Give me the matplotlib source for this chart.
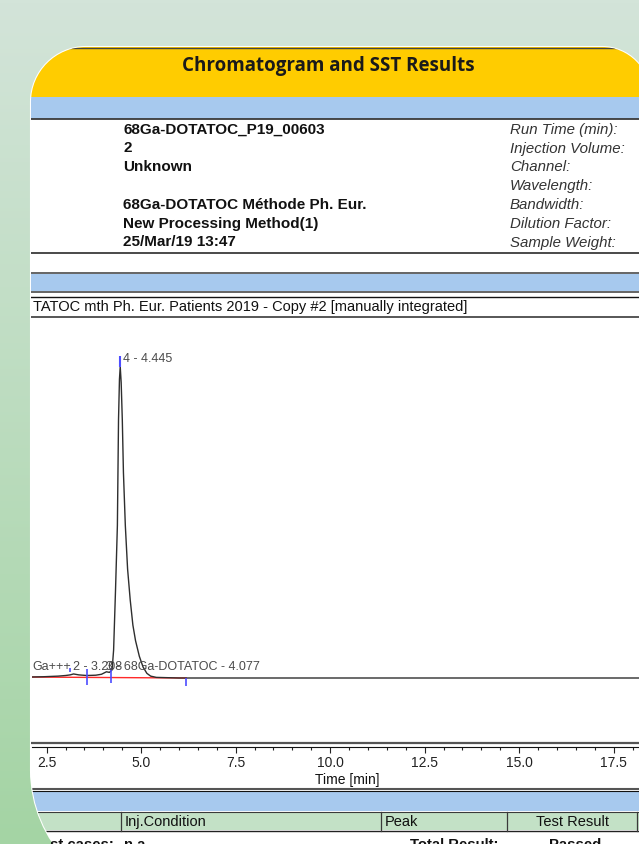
import numpy as np
import matplotlib
matplotlib.use("Agg")
import matplotlib.pyplot as plt
from matplotlib.path import Path
from matplotlib.patches import PathPatch, Rectangle
from matplotlib.colors import to_rgb

# ---------------- data ----------------
time_min = [2.00, 2.40, 2.80, 3.00, 3.12, 3.21, 3.35, 3.56, 3.80, 3.95, 4.08, 4.16,
            4.23, 4.27, 4.32, 4.37, 4.40, 4.425, 4.445, 4.47, 4.50, 4.53, 4.58, 4.64,
            4.71, 4.78, 4.85, 4.95, 5.05, 5.15, 5.25, 5.40, 6.00, 10.0, 15.0, 20.0]
signal = [0.3, 0.4, 0.6, 0.8, 1.0, 1.3, 1.0, 0.8, 0.9, 1.2, 2.0, 1.8,
          2.6, 9.0, 28.0, 49.0, 83.0, 96.0, 100.0, 95.0, 83.0, 66.0, 49.0, 35.0,
          25.0, 17.0, 12.0, 7.0, 3.5, 1.5, 0.6, 0.2, 0.0, 0.0, 0.0, 0.0]

baseline_t = [2.11, 6.19]
baseline_v = [0.3, 0.0]

delim_t = [3.12, 3.56, 4.20, 6.19]
delim_lo = [2.0, -2.2, -1.6, -2.6]
delim_hi = [3.2, 2.9, 3.2, 0.0]

apex_t = 4.445
apex_lo, apex_hi = 100.0, 103.5

peak_labels = ["Ga+++", "2 - 3.208", "3 - 68Ga-DOTATOC - 4.077", "4 - 4.445"]
peak_label_t = [2.13, 3.208, 4.077, 4.52]
peak_label_v = [3.5, 3.5, 3.5, 102.5]

major_ticks = [2.5, 5.0, 7.5, 10.0, 12.5, 15.0, 17.5]
tick_labels = ["2.5", "5.0", "7.5", "10.0", "12.5", "15.0", "17.5"]
minor_ticks = [2.5 + 0.5 * i for i in range(32)]

title = "Chromatogram and SST Results"
info_left = ["68Ga-DOTATOC_P19_00603", "2", "Unknown", "",
             "68Ga-DOTATOC Méthode Ph. Eur.", "New Processing Method(1)", "25/Mar/19 13:47"]
info_right = ["Run Time (min):", "Injection Volume:", "Channel:", "Wavelength:",
              "Bandwidth:", "Dilution Factor:", "Sample Weight:"]
chrom_caption = "TATOC mth Ph. Eur. Patients 2019 - Copy #2 [manually integrated]"
table_headers = ["Inj.Condition", "Peak", "Test Result"]
footer_texts = ["st cases:", "n.a.", "Total Result:", "Passed"]

# ---------------- figure ----------------
W, H = 639, 844
FONT = "Liberation Sans"
fig = plt.figure(figsize=(W / 100, H / 100), dpi=100)
bg = fig.add_axes([0, 0, 1, 1])
bg.axis("off")

top_c = np.array(to_rgb("#d3e4d9"))
bot_c = np.array(to_rgb("#a4d4a4"))
g = np.linspace(0, 1, 256)[:, None, None]
grad = top_c * (1 - g) + bot_c * g
bg.imshow(grad, extent=[0, W, H, 0], aspect="auto", zorder=0)
bg.set_xlim(0, W)
bg.set_ylim(H, 0)


def rrect(x0, y0, x1, y1, rtl, rtr, rbr, rbl):
    k = 0.5523
    v = [(x0 + rtl, y0), (x1 - rtr, y0),
         (x1 - rtr + k * rtr, y0), (x1, y0 + rtr - k * rtr), (x1, y0 + rtr),
         (x1, y1 - rbr),
         (x1, y1 - rbr + k * rbr), (x1 - rbr + k * rbr, y1), (x1 - rbr, y1),
         (x0 + rbl, y1),
         (x0 + rbl - k * rbl, y1), (x0, y1 - rbl + k * rbl), (x0, y1 - rbl),
         (x0, y0 + rtl),
         (x0, y0 + rtl - k * rtl), (x0 + rtl - k * rtl, y0), (x0 + rtl, y0),
         (x0 + rtl, y0)]
    c = [Path.MOVETO, Path.LINETO,
         Path.CURVE4, Path.CURVE4, Path.CURVE4,
         Path.LINETO,
         Path.CURVE4, Path.CURVE4, Path.CURVE4,
         Path.LINETO,
         Path.CURVE4, Path.CURVE4, Path.CURVE4,
         Path.LINETO,
         Path.CURVE4, Path.CURVE4, Path.CURVE4,
         Path.CLOSEPOLY]
    return Path(v, c)


card = PathPatch(rrect(31, 47, 650, 900, 55, 48, 10, 130), fc="white",
                 ec="white", lw=1.5, zorder=1)
bg.add_patch(card)


def band(y0, y1, color):
    r = Rectangle((0, y0), W + 20, y1 - y0, fc=color, ec="none", zorder=2)
    bg.add_patch(r)
    r.set_clip_path(card)


def hline(y, lw, color="#3a3a3a"):
    l, = bg.plot([0, W + 20], [y, y], color=color, lw=lw, zorder=3,
                 solid_capstyle="butt")
    l.set_clip_path(card)


def vline(x, y0, y1, lw=0.9, color="#3a3a3a"):
    l, = bg.plot([x, x], [y0, y1], color=color, lw=lw, zorder=3)
    l.set_clip_path(card)


def txt(x, y, s, **kw):
    kw.setdefault("family", FONT)
    kw.setdefault("va", "center")
    t = bg.text(x, y, s, zorder=4, **kw)
    t.set_clip_path(card)
    return t


YELLOW = "#ffcc00"
BLUE = "#a7c9ee"
GREEN = "#c3e1c6"

band(40, 97, YELLOW)
hline(48, 1.0, "#444444")
band(97, 119, BLUE)
hline(119, 1.3)
txt(328, 66, title, ha="center", family="Open Sans", weight="bold", fontsize=13.5,
    color="#1a1a1a")

rows_y = [130, 148.5, 167, 186, 205, 224, 242.5]
for y, s in zip(rows_y, info_left):
    if s:
        txt(123, y, s, weight="bold", fontsize=11, color="#111111")
for y, s in zip(rows_y, info_right):
    txt(510, y, s, style="italic", fontsize=10.8, color="#333333")
hline(252.5, 1.3)

hline(273, 1.1)
band(273.5, 291, BLUE)
hline(291.5, 1.1)
hline(296.5, 1.0, "#111111")
txt(33, 306.5, chrom_caption, fontsize=10.5, color="#111111")
hline(316.5, 1.2)

# axis double line
hline(743, 1.6, "#555555")

# lower part
hline(788.5, 1.5, "#555555")
hline(791, 0.8, "#111111")
band(791.5, 811, BLUE)
hline(811.5, 0.8)
band(812, 830, GREEN)
hline(830.5, 1.0, "#222222")
for x in [121, 381, 507, 636.5]:
    vline(x, 812, 830.5)
txt(124.5, 822, table_headers[0], fontsize=10.5, color="#111111")
txt(384.5, 822, table_headers[1], fontsize=10.5, color="#111111")
txt(573, 822, table_headers[2], ha="center", fontsize=10.5, color="#111111")
for x, s in zip([50, 124, 410, 549], footer_texts):
    txt(x, 845, s, fontsize=10.7, weight="bold", color="#111111")

# ---------------- chromatogram ----------------
ax_l, ax_r, ax_t, ax_b = 32, 639, 316.5, 747
ax = fig.add_axes([ax_l / W, (H - ax_b) / H, (ax_r - ax_l) / W, (ax_b - ax_t) / H])
ax.patch.set_alpha(0)
px_per_min = 37.8
x_tick0 = 46.7
ax.set_xlim(2.5 - (x_tick0 - ax_l) / px_per_min, 2.5 + (ax_r - x_tick0) / px_per_min)
y_base, y_apex = 678.0, 366.7
ppu = (y_base - y_apex) / 100.0
ax.set_ylim(-(ax_b - y_base) / ppu, (y_base - ax_t) / ppu)

ax.plot(baseline_t, baseline_v, color="#ff2a2a", lw=1.0, zorder=2)
ax.plot(time_min, signal, color="#2e2e2e", lw=1.0, zorder=3)
ax.vlines(delim_t, delim_lo, delim_hi, color="#4d4dff", lw=1.2, zorder=4)
ax.vlines([apex_t], [apex_lo], [apex_hi], color="#4d4dff", lw=1.5, zorder=4)
for s, t, v in zip(peak_labels, peak_label_t, peak_label_v):
    ax.text(t, v, s, fontsize=9, family=FONT, color="#4a4a4a", va="center",
            ha="left", clip_on=True, zorder=5)

for sp in ["top", "left", "right"]:
    ax.spines[sp].set_visible(False)
ax.spines["bottom"].set_color("#111111")
ax.spines["bottom"].set_linewidth(0.8)
ax.set_yticks([])
ax.set_xticks(major_ticks)
ax.set_xticklabels(tick_labels, family=FONT)
ax.set_xticks(minor_ticks, minor=True)
ax.tick_params(axis="x", which="major", length=4, width=0.8, direction="out",
               labelsize=10, pad=2.5, colors="#222222")
ax.tick_params(axis="x", which="minor", length=2.5, width=0.8, direction="out",
               colors="#222222")
ax.set_xlabel("Time [min]", fontsize=10, family=FONT, color="#111111")
ax.xaxis.set_label_coords((347 - ax_l) / (ax_r - ax_l), -(773 - ax_b) / (ax_b - ax_t))

fig.savefig("out.png", dpi=100)
